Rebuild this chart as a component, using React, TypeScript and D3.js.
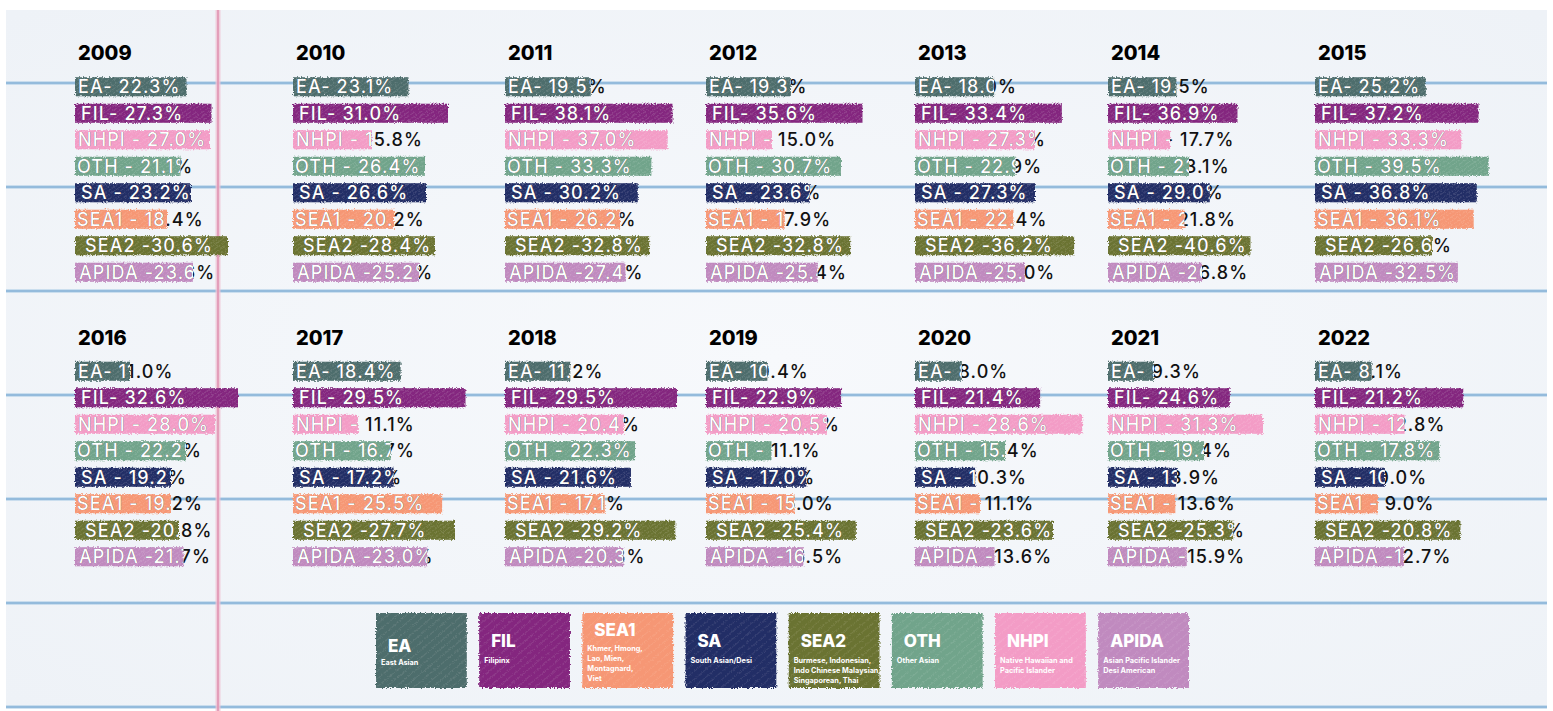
import * as d3 from 'd3';

const categories = ['EA', 'FIL', 'NHPI', 'OTH', 'SA', 'SEA1', 'SEA2', 'APIDA'];
const years = ['2009', '2010', '2011', '2012', '2013', '2014', '2015', '2016', '2017', '2018', '2019', '2020', '2021', '2022'];

// percentages per group, one value per year (2009..2022)
const eaValues = [22.3, 23.1, 19.5, 19.3, 18.0, 19.5, 25.2, 11.0, 18.4, 11.2, 10.4, 8.0, 9.3, 8.1];
const filValues = [27.3, 31.0, 38.1, 35.6, 33.4, 36.9, 37.2, 32.6, 29.5, 29.5, 22.9, 21.4, 24.6, 21.2];
const nhpiValues = [27.0, 15.8, 37.0, 15.0, 27.3, 17.7, 33.3, 28.0, 11.1, 20.4, 20.5, 28.6, 31.3, 12.8];
const othValues = [21.1, 26.4, 33.3, 30.7, 22.9, 23.1, 39.5, 22.2, 16.7, 22.3, 11.1, 15.4, 19.4, 17.8];
const saValues = [23.2, 26.6, 30.2, 23.6, 27.3, 29.0, 36.8, 19.2, 17.2, 21.6, 17.0, 10.3, 13.9, 10.0];
const sea1Values = [18.4, 20.2, 26.2, 17.9, 22.4, 21.8, 36.1, 19.2, 25.5, 17.1, 15.0, 11.1, 13.6, 9.0];
const sea2Values = [30.6, 28.4, 32.8, 32.8, 36.2, 40.6, 26.6, 20.8, 27.7, 29.2, 25.4, 23.6, 25.3, 20.8];
const apidaValues = [23.6, 25.2, 27.4, 25.4, 25.0, 26.8, 32.5, 21.7, 23.0, 20.3, 16.5, 13.6, 15.9, 12.7];

// each year's panel has its own x-axis maximum
const axisMax = [40, 40, 45.5, 45.5, 45.5, 57, 45.5, 40, 34.2, 34.3, 33.9, 34.2, 40.4, 28.6];

const labelPrefix = ['EA- ', 'FIL- ', 'NHPI - ', 'OTH - ', 'SA - ', 'SEA1 - ', 'SEA2 -', 'APIDA -'];

const legendNames = ['EA', 'FIL', 'SEA1', 'SA', 'SEA2', 'OTH', 'NHPI', 'APIDA'];
const legendDesc = [
  ['East Asian'],
  ['Filipinx'],
  ['Khmer, Hmong,', 'Lao, Mien,', 'Montagnard,', 'Viet'],
  ['South Asian/Desi'],
  ['Burmese, Indonesian,', 'Indo Chinese Malaysian,', 'Singaporean, Thai'],
  ['Other Asian'],
  ['Native Hawaiian and', 'Pacific Islander'],
  ['Asian Pacific Islander', 'Desi American'],
];

const series: Record<string, number[]> = {
  EA: eaValues,
  FIL: filValues,
  NHPI: nhpiValues,
  OTH: othValues,
  SA: saValues,
  SEA1: sea1Values,
  SEA2: sea2Values,
  APIDA: apidaValues,
};

const colors: Record<string, string> = {
  EA: '#4e6d6c',
  FIL: '#84287f',
  NHPI: '#f39cc6',
  OTH: '#71a48b',
  SA: '#232e66',
  SEA1: '#f69774',
  SEA2: '#6b7332',
  APIDA: '#c08abf',
};

const textIndent: Record<string, number> = {
  EA: 3, FIL: 6, NHPI: 3, OTH: 2, SA: 6, SEA1: 2, SEA2: 10, APIDA: 4,
};

const W = 1553;
const H = 711;
const colX = [75, 293, 505, 706, 915, 1108, 1315];
const rowTop = [73.5, 358];
const titleY = [60, 345];
const rowStep = 26.5;
const panelWidth = 200;
const FONT = 'Inter, "Open Sans", sans-serif';

function Panel({ yi }: { yi: number }) {
  const row = Math.floor(yi / 7);
  const x0 = colX[yi % 7];
  const x = d3.scaleLinear().domain([0, axisMax[yi]]).range([0, panelWidth]);
  const y = d3
    .scaleBand<string>()
    .domain(categories)
    .range([rowTop[row], rowTop[row] + rowStep * categories.length])
    .paddingInner(0.28)
    .paddingOuter(0.14);
  return (
    <g transform={`translate(${x0},0)`}>
      <text x={3} y={titleY[row]} fontFamily={FONT} fontWeight={800} fontSize={20} fill="#000">
        {years[yi]}
      </text>
      {categories.map((c, ci) => {
        const v = series[c][yi];
        const by = y(c)!;
        const bw = x(v);
        const bh = y.bandwidth();
        const label = `${labelPrefix[ci]}${v.toFixed(1)}%`;
        const clipId = `clip-${yi}-${ci}`;
        const ty = by + bh / 2 + 6.5;
        return (
          <g key={c}>
            <clipPath id={clipId}>
              <rect x={0} y={by - 2} width={bw} height={bh + 4} />
            </clipPath>
            <g filter="url(#rough)">
              <rect x={0} y={by} width={bw} height={bh} fill={colors[c]} />
              <rect x={0} y={by} width={bw} height={bh} fill="url(#hatch)" />
            </g>
            <text x={textIndent[c]} y={ty} fontFamily={FONT} fontWeight={500} fontSize={18} letterSpacing={1.1} fill="#111">
              {label}
            </text>
            <text
              x={textIndent[c]}
              y={ty}
              fontFamily={FONT}
              fontWeight={500}
              fontSize={18}
              letterSpacing={1.1}
              fill="#fff"
              clipPath={`url(#${clipId})`}
            >
              {label}
            </text>
          </g>
        );
      })}
    </g>
  );
}

function Legend() {
  const lx = d3.scaleBand<string>().domain(legendNames).range([376, 1189]).paddingInner(0.12).paddingOuter(0);
  const top = 613;
  const bh = 75;
  return (
    <g>
      {legendNames.map((n, i) => {
        const bx = lx(n)!;
        const bw = lx.bandwidth();
        const lines = legendDesc[i];
        const many = lines.length >= 4;
        const titleBase = many ? 636 : n === 'EA' ? 652 : 647;
        const descBase = many ? 651 : n === 'EA' ? 665 : 663;
        return (
          <g key={n}>
            <g filter="url(#rough)">
              <rect x={bx} y={top} width={bw} height={bh} fill={colors[n]} />
              <rect x={bx} y={top} width={bw} height={bh} fill="url(#hatchBig)" />
            </g>
            <text x={bx + 12} y={titleBase} fontFamily={FONT} fontWeight={800} fontSize={17} fill="#fff">
              {n}
            </text>
            {lines.map((l, li) => (
              <text
                key={li}
                x={bx + 5}
                y={descBase + li * 10}
                fontFamily={FONT}
                fontWeight={700}
                fontSize={7.3}
                fill="#fff"
              >
                {l}
              </text>
            ))}
          </g>
        );
      })}
    </g>
  );
}

export default function App() {
  const ruled = d3.range(0, 7).map((k) => 83 + 104 * k);
  return (
    <svg width={W} height={H} style={{ position: 'absolute', left: 0, top: 0 }}>
      <defs>
        <filter id="rough" x="-5%" y="-25%" width="110%" height="150%">
          <feTurbulence type="fractalNoise" baseFrequency="0.7" numOctaves="2" seed="3" result="n" />
          <feDisplacementMap in="SourceGraphic" in2="n" scale="4" xChannelSelector="R" yChannelSelector="G" />
        </filter>
        <filter id="soft" x="-1%" y="-300%" width="102%" height="700%">
          <feGaussianBlur stdDeviation="1.8" />
        </filter>
        <radialGradient id="paper" cx="50%" cy="50%" r="70%">
          <stop offset="0%" stopColor="#f7f9fc" />
          <stop offset="100%" stopColor="#eef2f7" />
        </radialGradient>
        <pattern id="hatch" width="3.5" height="3.5" patternUnits="userSpaceOnUse" patternTransform="rotate(55)">
          <line x1={0} y1={0} x2={0} y2={3.5} stroke="#fff" strokeWidth={0.7} strokeOpacity={0.3} />
        </pattern>
        <pattern id="hatchBig" width="6" height="6" patternUnits="userSpaceOnUse" patternTransform="rotate(50)">
          <line x1={0} y1={0} x2={0} y2={6} stroke="#fff" strokeWidth={0.6} strokeOpacity={0.3} />
        </pattern>
      </defs>
      <rect x={0} y={0} width={W} height={H} fill="#fff" />
      <rect x={6} y={10} width={W - 12} height={H - 14} fill="url(#paper)" />
      {ruled.map((ly) => (
        <g key={ly}>
          <line x1={6} x2={W - 6} y1={ly + 1} y2={ly + 1} stroke="#8fa9c0" strokeWidth={5} filter="url(#soft)" opacity={0.55} />
          <line x1={6} x2={W - 6} y1={ly} y2={ly} stroke="#a3c7e4" strokeWidth={3.2} />
          <line x1={6} x2={W - 6} y1={ly} y2={ly} stroke="#86b0d4" strokeWidth={1.2} />
        </g>
      ))}
      <line x1={218} x2={218} y1={10} y2={H} stroke="#efc3d4" strokeWidth={5} opacity={0.8} />
      <line x1={218} x2={218} y1={10} y2={H} stroke="#e19ab6" strokeWidth={1.8} />
      {years.map((_, yi) => (
        <Panel key={yi} yi={yi} />
      ))}
      <Legend />
    </svg>
  );
}
